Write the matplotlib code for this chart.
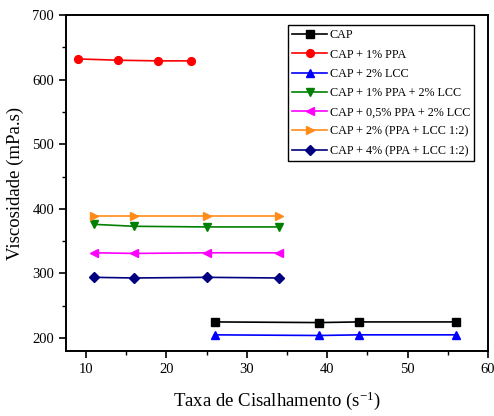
import matplotlib
matplotlib.use('Agg')
import matplotlib.pyplot as plt
from matplotlib.ticker import MultipleLocator

plt.rcParams['font.family'] = ['Liberation Serif', 'DejaVu Serif']
plt.rcParams['mathtext.default'] = 'regular'

# Dados
labels = ['CAP', 'CAP + 1% PPA', 'CAP + 2% LCC', 'CAP + 1% PPA + 2% LCC',
          'CAP + 0,5% PPA + 2% LCC', 'CAP + 2% (PPA + LCC 1:2)', 'CAP + 4% (PPA + LCC 1:2)']

x_cap = [26, 39, 44, 56]
y_cap = [225, 224, 225, 225]

x_ppa = [9, 14, 19, 23]
y_ppa = [632, 630, 629, 629]

x_lcc = [26, 39, 44, 56]
y_lcc = [205, 204, 205, 205]

x_ppa_lcc = [11, 16, 25, 34]
y_ppa_lcc = [376, 373, 372, 372]

x_05ppa_lcc = [11, 16, 25, 34]
y_05ppa_lcc = [332, 331, 332, 332]

x_2mix = [11, 16, 25, 34]
y_2mix = [389, 389, 389, 389]

x_4mix = [11, 16, 25, 34]
y_4mix = [294, 293, 294, 293]

series = [(x_cap, y_cap, 'black', 's'),
          (x_ppa, y_ppa, 'red', 'o'),
          (x_lcc, y_lcc, 'blue', '^'),
          (x_ppa_lcc, y_ppa_lcc, '#008000', 'v'),
          (x_05ppa_lcc, y_05ppa_lcc, 'magenta', '<'),
          (x_2mix, y_2mix, '#FF8C1A', '>'),
          (x_4mix, y_4mix, '#000080', 'D')]

fig = plt.figure(figsize=(4.94, 4.16), dpi=100)
ax = fig.add_axes([66 / 494, 1 - 351 / 416, 422 / 494, 336 / 416])

for (xs, ys, cor, m), lab in zip(series, labels):
    ms = 4.6 if m == 'D' else 5.6
    ax.plot(xs, ys, color=cor, marker=m, markersize=ms, linewidth=1.2, label=lab)

ax.set_xlim(7.5, 60)
ax.set_ylim(180, 700)
ax.xaxis.set_major_locator(MultipleLocator(10))
ax.xaxis.set_minor_locator(MultipleLocator(5))
ax.yaxis.set_major_locator(MultipleLocator(100))
ax.yaxis.set_minor_locator(MultipleLocator(50))
ax.tick_params(which='major', direction='out', length=5, width=1.2, labelsize=10.5)
ax.tick_params(which='minor', direction='out', length=3, width=1.0)
for s in ax.spines.values():
    s.set_linewidth(1.4)

ax.set_xlabel('Taxa de Cisalhamento (s$^{-1}$)', fontsize=13.5, labelpad=10)
ax.set_ylabel('Viscosidade (mPa.s)', fontsize=13.5, labelpad=6)

leg = ax.legend(loc='upper right', bbox_to_anchor=(0.968, 0.97), fontsize=8.7,
                fancybox=False, edgecolor='black', framealpha=1,
                handlelength=2.9, labelspacing=0.6, borderpad=0.35,
                handletextpad=0.2, borderaxespad=0)
leg.get_frame().set_linewidth(1.0)

plt.savefig('out.png', dpi=100)
